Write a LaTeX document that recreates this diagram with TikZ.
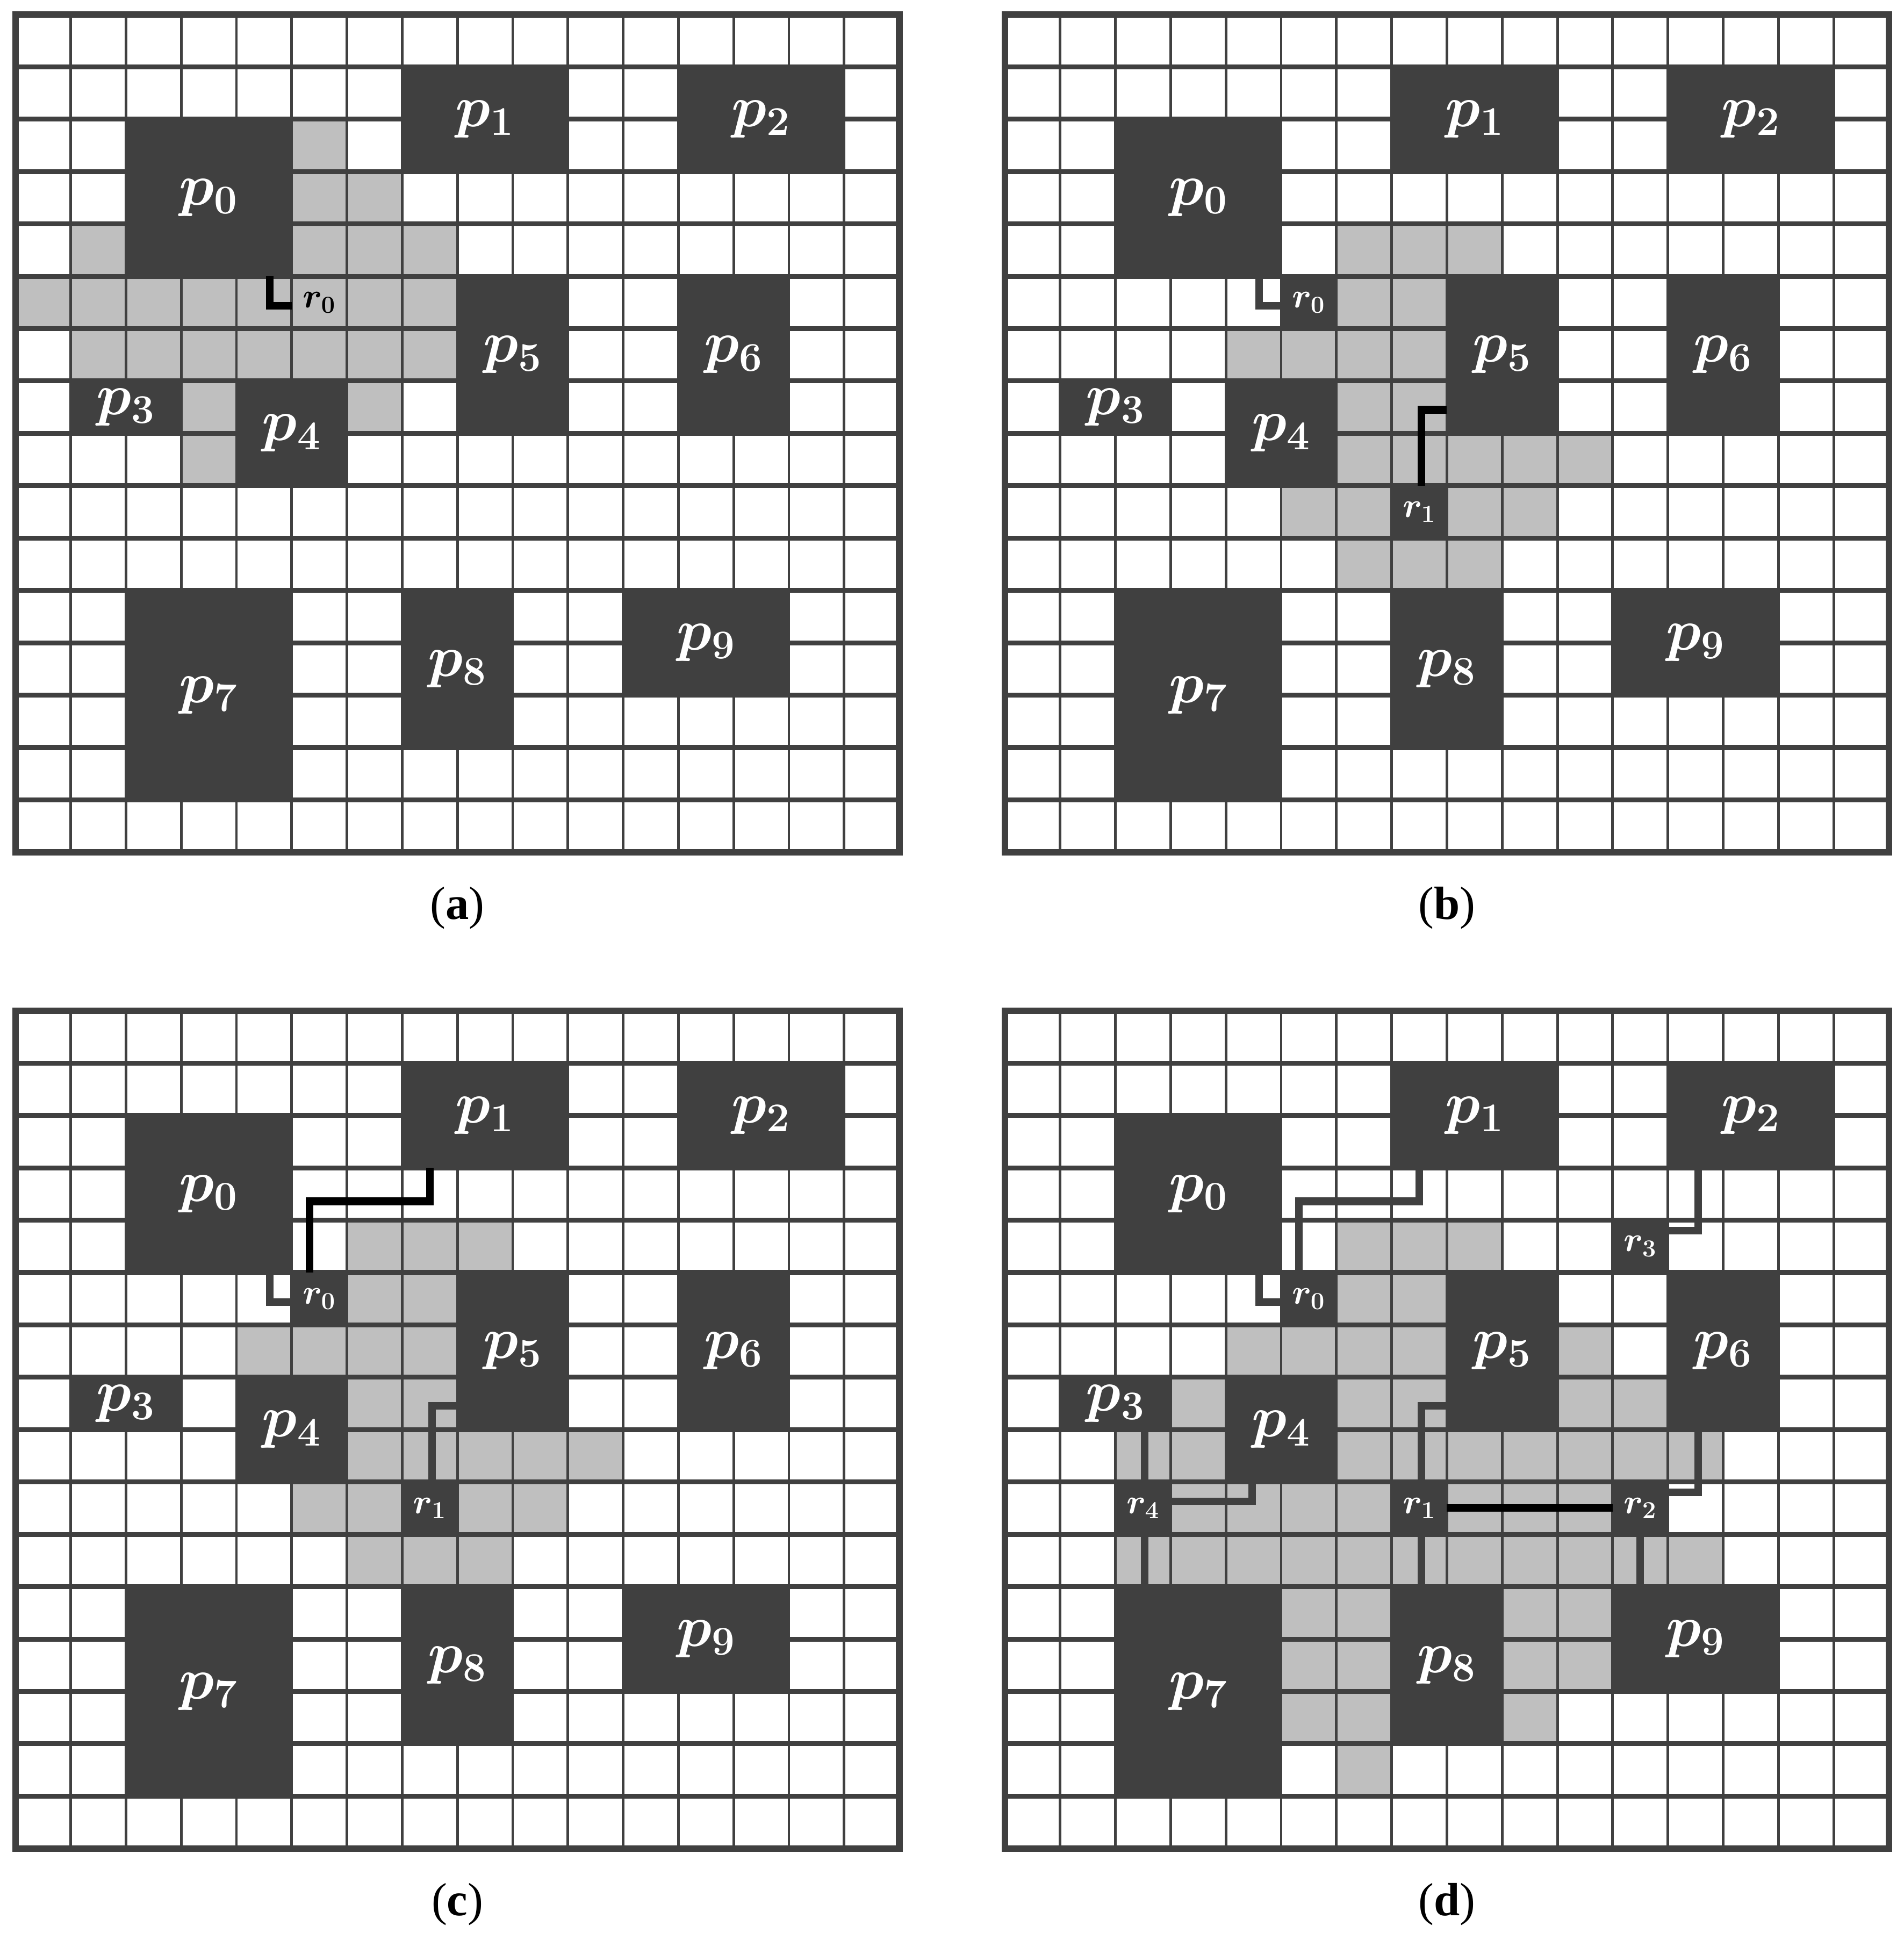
\documentclass[tikz,border=0pt]{standalone}
\usepackage{fix-cm}
\usepackage{amsmath}
\usepackage[no-math]{fontspec}
\newfontfamily\capfont{Liberation Serif}
\usetikzlibrary{calc}

\definecolor{darkcell}{HTML}{404040}
\definecolor{routecell}{HTML}{BFBFBF}

\tikzset{
  block/.style={fill=darkcell, inner sep=0pt, outer sep=0pt, text=white,
    font=\fontsize{30}{36}\selectfont},
  rcell/.style={fill=darkcell, inner sep=0pt, outer sep=0pt, minimum width=1cm,
    minimum height=0.9478cm, text=white, font=\fontsize{18}{22}\selectfont},
  rfree/.style={rcell, fill=none, text=black},
  wire/.style={darkcell, line width=3.9pt},
  newwire/.style={black, line width=3.9pt},
  caption/.style={font=\capfont\fontsize{24}{29}\selectfont, anchor=base}
}

% #1 panel name, #2 routed cells
\newcommand{\basegrid}[2]{%
  \foreach \c/\r in {#2} \fill[routecell] (\c,\r) rectangle ++(1,1);
  \foreach \i in {1,...,15} {
    \draw[darkcell, line width=1.33pt] (\i,0) -- (\i,16);
    \draw[darkcell, line width=2.5pt] (0,\i) -- (16,\i);
  }
  \foreach \x/\y/\w/\h/\n in {2/2/3/3/0, 7/1/3/2/1, 12/1/3/2/2, 1/7/2/1/3, 4/7/2/2/4,
      8/5/2/3/5, 12/5/2/3/6, 2/11/3/4/7, 7/11/2/3/8, 11/11/3/2/9}
    \node[block, minimum width=\w*1cm, minimum height=\h*0.9478cm]
      (#1-p\n) at ({\x+\w/2},{\y+\h/2}) {$\boldsymbol{p_{\n}}$};
  \draw[darkcell, line width=3.46pt] (0,0) rectangle (16,16);
}

\begin{document}
\begin{tikzpicture}[x=1cm, y=-0.9478cm]
\useasboundingbox (0,0) rectangle (34.455,36.917);

% (a)
\begin{scope}[shift={(0.280,0.276)}]
  \basegrid{a}{5/2, 5/3, 6/3, 1/4, 5/4, 6/4, 7/4, 0/5, 1/5, 2/5, 3/5, 4/5, 5/5, 6/5, 7/5,
    1/6, 2/6, 3/6, 4/6, 5/6, 6/6, 7/6, 3/7, 6/7, 3/8}
  \node[rfree] (a-r0) at (5.5,5.5) {$\boldsymbol{r_0}$};
  \draw[newwire] ($(a-p0.south east)+(-0.4,0)$) |- ($(a-r0.west)+(0,0.06)$);
  \node[caption] (a-cap) at (8,17.278) {(\textbf{a})};
\end{scope}

% (b)
\begin{scope}[shift={(18.191,0.276)}]
  \basegrid{b}{6/4, 7/4, 8/4, 6/5, 7/5, 4/6, 5/6, 6/6, 7/6, 6/7, 7/7,
    6/8, 7/8, 8/8, 9/8, 10/8, 5/9, 6/9, 8/9, 9/9, 6/10, 7/10, 8/10}
  \node[rcell] (b-r0) at (5.5,5.5) {$\boldsymbol{r_0}$};
  \node[rcell] (b-r1) at (7.5,9.5) {$\boldsymbol{r_1}$};
  \draw[wire] ($(b-p0.south east)+(-0.4,0)$) |- ($(b-r0.west)+(0,0.06)$);
  \draw[newwire] ($(b-p5.west)+(0,1.05)$) -| ($(b-r1.north)+(0.04,0)$);
  \node[caption] (b-cap) at (8,17.278) {(\textbf{b})};
\end{scope}

% (c)
\begin{scope}[shift={(0.280,19.303)}]
  \basegrid{c}{6/4, 7/4, 8/4, 6/5, 7/5, 4/6, 5/6, 6/6, 7/6, 6/7, 7/7,
    6/8, 7/8, 8/8, 9/8, 10/8, 5/9, 6/9, 8/9, 9/9, 6/10, 7/10, 8/10}
  \node[rcell] (c-r0) at (5.5,5.5) {$\boldsymbol{r_0}$};
  \node[rcell] (c-r1) at (7.5,9.5) {$\boldsymbol{r_1}$};
  \draw[wire] ($(c-p0.south east)+(-0.4,0)$) |- ($(c-r0.west)+(0,0.06)$);
  \draw[wire] ($(c-p5.west)+(0,1.05)$) -| ($(c-r1.north)+(0.04,0)$);
  \draw[newwire] ($(c-r0.north)+(-0.18,0)$) |- ($(c-p1.south west)+(0.5,0.64)$)
    -- ($(c-p1.south west)+(0.5,0)$);
  \node[caption] (c-cap) at (8,17.278) {(\textbf{c})};
\end{scope}

% (d)
\begin{scope}[shift={(18.191,19.303)}]
  \basegrid{d}{6/4, 7/4, 8/4, 6/5, 7/5, 4/6, 5/6, 6/6, 7/6, 10/6,
    3/7, 6/7, 7/7, 10/7, 11/7, 2/8, 3/8, 6/8, 7/8, 8/8, 9/8, 10/8, 11/8, 12/8,
    3/9, 4/9, 5/9, 6/9, 8/9, 9/9, 10/9,
    2/10, 3/10, 4/10, 5/10, 6/10, 7/10, 8/10, 9/10, 10/10, 11/10, 12/10,
    5/11, 6/11, 9/11, 10/11, 5/12, 6/12, 9/12, 10/12, 5/13, 6/13, 9/13, 6/14}
  \node[rcell] (d-r0) at (5.5,5.5) {$\boldsymbol{r_0}$};
  \node[rcell] (d-r1) at (7.5,9.5) {$\boldsymbol{r_1}$};
  \node[rcell] (d-r2) at (11.5,9.5) {$\boldsymbol{r_2}$};
  \node[rcell] (d-r3) at (11.5,4.5) {$\boldsymbol{r_3}$};
  \node[rcell] (d-r4) at (2.5,9.5) {$\boldsymbol{r_4}$};
  \draw[wire] ($(d-p0.south east)+(-0.4,0)$) |- ($(d-r0.west)+(0,0.06)$);
  \draw[wire] ($(d-r0.north)+(-0.18,0)$) |- ($(d-p1.south west)+(0.5,0.64)$)
    -- ($(d-p1.south west)+(0.5,0)$);
  \draw[wire] ($(d-p5.west)+(0,1.05)$) -| ($(d-r1.north)+(0.04,0)$);
  \draw[wire] ($(d-r1.south)+(0.04,0)$) -- ($(d-r1.south |- d-p8.north)+(0.04,0)$);
  \draw[wire] ($(d-p2.south west)+(0.55,0)$) |- ($(d-r3.east)+(0,-0.3)$);
  \draw[wire] ($(d-p6.south west)+(0.55,0)$) |- ($(d-r2.east)+(0,-0.3)$);
  \draw[wire] (d-r2.south) -- (d-r2.south |- d-p9.north);
  \draw[wire] ($(d-r4.north)+(0.03,0)$) -- ($(d-r4.north |- d-p3.south)+(0.03,0)$);
  \draw[wire] ($(d-r4.east)+(0,-0.13)$) -| ($(d-p4.south)+(-0.53,0)$);
  \draw[wire] ($(d-r4.south)+(0.03,0)$) -- ($(d-r4.south |- d-p7.north)+(0.03,0)$);
  \draw[newwire] (d-r1) -- (d-r2);
  \node[caption] (d-cap) at (8,17.278) {(\textbf{d})};
\end{scope}
\end{tikzpicture}
\end{document}
